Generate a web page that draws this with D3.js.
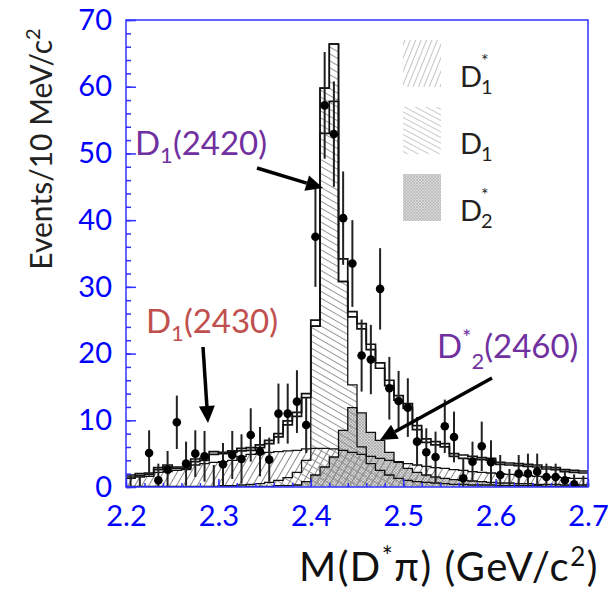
<!DOCTYPE html>
<html>
<head>
<meta charset="utf-8">
<script src="https://cdn.jsdelivr.net/npm/d3@7"></script>
<style>
  body { margin: 0; background: #fff; }
  text { font-family: Lato, "Open Sans", sans-serif; }
</style>
</head>
<body>
<script>
// 10 MeV bins from 2.20 to 2.70 GeV
var binStart = 2.20, binWidth = 0.01;

// background-subtracted data points and their errors
var counts = [-1.2, -1.5, 5.1, 1.0, 2.6, 9.7, 3.5, 5.0, 4.6, -0.7,
              3.4, 4.8, 4.2, 7.8, 5.3, 4.1, 11.0, 11.0, 12.8, 9.3,
              37.5, 57.2, 52.9, 40.3, 33.5, 19.7, 19.1, 29.7, 14.8, 12.9,
              11.9, 6.8, 5.2, 4.5, 9.1, 7.5, 1.3, 3.8, 6.1, 3.7,
              1.8, -0.7, 2.0, 2.0, 2.3, 1.5, 1.5, 1.0, 0.4, -0.8];
var errors = [3.0, 3.0, 3.4, 2.5, 2.8, 4.0, 3.3, 3.5, 3.8, 4.0,
              3.2, 3.6, 3.7, 4.0, 3.7, 3.3, 4.5, 4.5, 4.7, 4.2,
              7.5, 8.0, 7.9, 7.0, 6.5, 5.4, 5.2, 6.1, 4.7, 4.5,
              4.4, 3.7, 3.6, 3.8, 4.0, 3.8, 3.0, 3.0, 3.7, 3.3,
              3.0, 3.4, 2.8, 3.0, 2.7, 2.0, 2.0, 1.5, 1.5, 2.5];

// fit components
var d1Broad = [1.3, 1.5, 1.6, 2.2, 2.3, 2.5, 2.6, 3.3, 3.5, 3.7,
               3.8, 4.0, 4.6, 4.9, 5.0, 5.2, 5.3, 5.4, 5.5, 5.7,
               5.8, 5.8, 5.7, 5.5, 5.2, 4.9, 4.6, 4.3, 4.0, 3.8,
               3.5, 3.3, 3.1, 2.9, 2.8, 2.6, 2.5, 2.3, 2.2, 2.1,
               2.0, 1.9, 1.8, 1.7, 1.6, 1.5, 1.5, 1.4, 1.3, 1.3];
var d1Narrow = [0.1, 0.1, 0.1, 0.1, 0.1, 0.1, 0.1, 0.1, 0.1, 0.1,
                0.2, 0.2, 0.3, 0.4, 0.5, 0.7, 1.0, 1.4, 2.2, 4.0,
                24.1, 59.8, 66.4, 30.8, 15.3, 6.0, 3.5, 2.5, 1.8, 1.3,
                1.0, 0.8, 0.7, 0.6, 0.5, 0.4, 0.4, 0.3, 0.3, 0.3,
                0.2, 0.2, 0.2, 0.2, 0.2, 0.1, 0.1, 0.1, 0.1, 0.1];
var d2Star = [0.0, 0.0, 0.0, 0.0, 0.0, 0.0, 0.0, 0.0, 0.0, 0.0,
              0.0, 0.0, 0.0, 0.1, 0.1, 0.1, 0.2, 0.2, 0.3, 0.8,
              1.8, 3.0, 4.5, 8.5, 11.9, 11.1, 8.2, 7.0, 5.2, 3.7,
              2.8, 2.2, 1.8, 1.5, 1.3, 1.1, 1.0, 0.9, 0.8, 0.7,
              0.6, 0.6, 0.5, 0.5, 0.4, 0.4, 0.4, 0.3, 0.3, 0.3];
var fitTotal = [1.8, 2.0, 2.1, 2.9, 3.3, 3.0, 3.0, 4.2, 4.3, 5.3,
                5.2, 5.4, 5.8, 5.9, 6.3, 7.0, 8.0, 9.9, 11.2, 14.0,
                25.0, 59.8, 66.4, 34.2, 26.3, 24.5, 21.4, 18.6, 16.0, 13.7,
                12.5, 9.2, 7.2, 6.8, 6.5, 5.0, 4.8, 4.6, 4.4, 4.3,
                3.7, 3.6, 3.5, 3.4, 3.3, 3.0, 2.9, 2.6, 2.5, 2.4];
var fitAlt = [1.5, 1.7, 1.9, 2.6, 3.0, 2.8, 2.8, 3.8, 4.0, 4.9,
              5.0, 5.2, 5.4, 5.5, 5.9, 6.5, 7.5, 9.3, 10.6, 13.4,
              24.1, 53.0, 57.8, 30.8, 25.5, 23.7, 20.6, 17.8, 15.2, 13.0,
              11.8, 8.6, 6.7, 6.3, 6.0, 4.6, 4.3, 4.2, 4.1, 4.0,
              3.4, 3.3, 3.2, 3.1, 3.0, 2.7, 2.6, 2.3, 2.2, 2.1];

var xTickValues = [2.2, 2.3, 2.4, 2.5, 2.6, 2.7];
var yTickValues = [0, 10, 20, 30, 40, 50, 60, 70];

var W = 611, H = 593;
var margin = { top: 20, right: 23, bottom: 106, left: 126 };
var width = W - margin.left - margin.right,
    height = H - margin.top - margin.bottom;
var blue = "#0000ff", frameBlue = "#3030ff";

var x = d3.scaleLinear().domain([2.2, 2.7]).range([0, width]);
var y = d3.scaleLinear().domain([0, 70]).range([height, 0]);

var svg = d3.select("body").append("svg")
    .attr("width", W).attr("height", H);
var defs = svg.append("defs");

// hatch patterns
function hatch(id, angle, gap, color, sw) {
    var p = defs.append("pattern").attr("id", id)
        .attr("patternUnits", "userSpaceOnUse")
        .attr("width", gap).attr("height", gap)
        .attr("patternTransform", "rotate(" + angle + ")");
    p.append("line").attr("x1", 0.5).attr("y1", 0).attr("x2", 0.5).attr("y2", gap)
        .attr("stroke", color).attr("stroke-width", sw);
}
hatch("hBroad", 30, 6, "#7a7a7a", 0.9);
hatch("hNarrow", -60, 6, "#8c8c8c", 0.9);
hatch("legBroad", 22, 5, "#c4c4c4", 1);
hatch("legNarrow", -62, 5, "#cacaca", 1);

function stipple(id, bg, fg) {
    var p = defs.append("pattern").attr("id", id)
        .attr("patternUnits", "userSpaceOnUse").attr("width", 3).attr("height", 3);
    p.append("rect").attr("width", 3).attr("height", 3).attr("fill", bg);
    p.append("path").attr("d", "M0,0L3,3M3,0L0,3").attr("stroke", fg).attr("stroke-width", 0.6);
}
stipple("gStar", "#d6d6d6", "#9a9a9a");
stipple("legStar", "#d8d8d8", "#b0b0b0");

defs.append("clipPath").attr("id", "plotClip")
    .append("rect").attr("width", width).attr("height", height);

var g = svg.append("g").attr("transform", "translate(" + margin.left + "," + margin.top + ")");
var plot = g.append("g").attr("clip-path", "url(#plotClip)");

function steps(vals) {
    var pts = vals.map(function (v, i) { return { e: binStart + i * binWidth, v: v }; });
    pts.push({ e: binStart + vals.length * binWidth, v: vals[vals.length - 1] });
    return pts;
}
var area = d3.area().curve(d3.curveStepAfter)
    .x(function (d) { return x(d.e); })
    .y0(y(0)).y1(function (d) { return y(d.v); });
var line = d3.line().curve(d3.curveStepAfter)
    .x(function (d) { return x(d.e); })
    .y(function (d) { return y(d.v); });

// filled components
plot.append("path").attr("d", area(steps(d2Star))).attr("fill", "url(#gStar)");
plot.append("path").attr("d", area(steps(d1Broad))).attr("fill", "url(#hBroad)");
plot.append("path").attr("d", area(steps(d1Narrow))).attr("fill", "url(#hNarrow)");

[d2Star, d1Broad, d1Narrow].forEach(function (s) {
    plot.append("path").attr("d", line(steps(s)))
        .attr("fill", "none").attr("stroke", "#111").attr("stroke-width", 1.3);
});
[fitAlt, fitTotal].forEach(function (s) {
    plot.append("path").attr("d", line(steps(s)))
        .attr("fill", "none").attr("stroke", "#111").attr("stroke-width", 1.7);
});

// data points
var pts = counts.map(function (c, i) {
    return { xc: binStart + (i + 0.5) * binWidth, c: c, e: errors[i] };
});
plot.append("g").selectAll("line").data(pts).enter().append("line")
    .attr("x1", function (d) { return x(d.xc); })
    .attr("x2", function (d) { return x(d.xc); })
    .attr("y1", function (d) { return y(d.c - d.e); })
    .attr("y2", function (d) { return y(d.c + d.e); })
    .attr("stroke", "#222").attr("stroke-width", 2);
plot.append("g").selectAll("circle").data(pts).enter().append("circle")
    .attr("cx", function (d) { return x(d.xc); })
    .attr("cy", function (d) { return y(d.c); })
    .attr("r", 4.3).attr("fill", "#000");

// frame and axes
g.append("rect").attr("width", width).attr("height", height)
    .attr("fill", "none").attr("stroke", frameBlue).attr("stroke-width", 1.5);

var yMinor = d3.range(0, 71, 2);
var xMinor = d3.range(0, 26).map(function (i) { return 2.2 + i * 0.02; });

g.append("g").call(d3.axisLeft(y).tickValues(yMinor).tickFormat("").tickSizeInner(-5).tickSizeOuter(0));
g.append("g").call(d3.axisLeft(y).tickValues(yTickValues).tickSizeInner(-10).tickSizeOuter(0).tickPadding(14))
    .selectAll("text").style("font-size", "29px");
g.append("g").attr("transform", "translate(0," + height + ")")
    .call(d3.axisBottom(x).tickValues(xMinor).tickFormat("").tickSizeInner(-4).tickSizeOuter(0));
g.append("g").attr("transform", "translate(0," + height + ")")
    .call(d3.axisBottom(x).tickValues(xTickValues).tickFormat(d3.format(".1f")).tickSizeInner(-8).tickSizeOuter(0).tickPadding(18))
    .selectAll("text").style("font-size", "29px");
g.selectAll(".domain").remove();
g.selectAll(".tick line").attr("stroke", frameBlue).attr("stroke-width", 1.5);
g.selectAll(".tick text").attr("fill", blue).style("font-family", "Lato, sans-serif");

// axis titles
var yt = svg.append("text")
    .attr("transform", "translate(52,149) rotate(-90)")
    .attr("text-anchor", "middle").style("font-size", "30px").attr("fill", "#222");
yt.append("tspan").text("Events/10 MeV/c");
yt.append("tspan").attr("dy", -12).style("font-size", "20px").text("2");

var xt = svg.append("text").attr("x", 599).attr("y", 581)
    .attr("text-anchor", "end").style("font-size", "40px")
    .style("letter-spacing", "1.5px").attr("fill", "#111");
xt.append("tspan").text("M(D");
xt.append("tspan").attr("dy", -15).style("font-size", "26px").text("*");
xt.append("tspan").attr("dy", 15).text("\u03c0) (GeV/c");
xt.append("tspan").attr("dy", -15).style("font-size", "26px").text("2");
xt.append("tspan").attr("dy", 15).text(")");

// legend
var legend = [
    { fill: "url(#legBroad)", sub: "1", sup: "*", y: 40 },
    { fill: "url(#legNarrow)", sub: "1", sup: "", y: 107 },
    { fill: "url(#legStar)", sub: "2", sup: "*", y: 174 }
];
legend.forEach(function (l) {
    svg.append("rect").attr("x", 403).attr("y", l.y).attr("width", 38).attr("height", 47)
        .attr("fill", l.fill);
    var t = svg.append("text").attr("x", 460).attr("y", l.y + 47)
        .style("font-size", "29px").attr("fill", "#231f20");
    t.append("tspan").text("D");
    t.append("tspan").attr("x", 481).attr("dy", 7).style("font-size", "20px").text(l.sub);
    if (l.sup) t.append("tspan").attr("x", 481).attr("dy", -27).style("font-size", "18px").text(l.sup);
});

// annotations
function arrow(x1, y1, x2, y2, len, half) {
    var dx = x2 - x1, dy = y2 - y1, L = Math.sqrt(dx * dx + dy * dy);
    var ux = dx / L, uy = dy / L;
    var bx = x2 - ux * len, by = y2 - uy * len;
    svg.append("line").attr("x1", x1).attr("y1", y1).attr("x2", bx).attr("y2", by)
        .attr("stroke", "#000").attr("stroke-width", 3.5);
    svg.append("path")
        .attr("d", "M" + x2 + "," + y2 + "L" + (bx - uy * half) + "," + (by + ux * half) +
              "L" + (bx + uy * half) + "," + (by - ux * half) + "Z")
        .attr("fill", "#000");
}

function label(xp, yp, color, parts) {
    var t = svg.append("text").attr("x", xp).attr("y", yp)
        .style("font-size", "33px").attr("fill", color);
    parts.forEach(function (p) {
        var s = t.append("tspan").text(p[0]);
        if (p[1]) s.attr("dy", p[1]);
        if (p[2]) s.style("font-size", p[2]);
    });
}
label(135, 155, "#7030a0", [["D"], ["1", 8, "22px"], ["(2420)", -8]]);
arrow(257, 168, 323, 188, 17, 8);
label(146, 333, "#c0504d", [["D"], ["1", 8, "22px"], ["(2430)", -8]]);
arrow(203, 347, 208, 423, 17, 8);
label(437, 358, "#7030a0", [["D"], ["*", -13, "22px"], ["2", 24, "22px"], ["(2460)", -11]]);
arrow(492, 378, 380, 440, 17, 8);
</script>
</body>
</html>
